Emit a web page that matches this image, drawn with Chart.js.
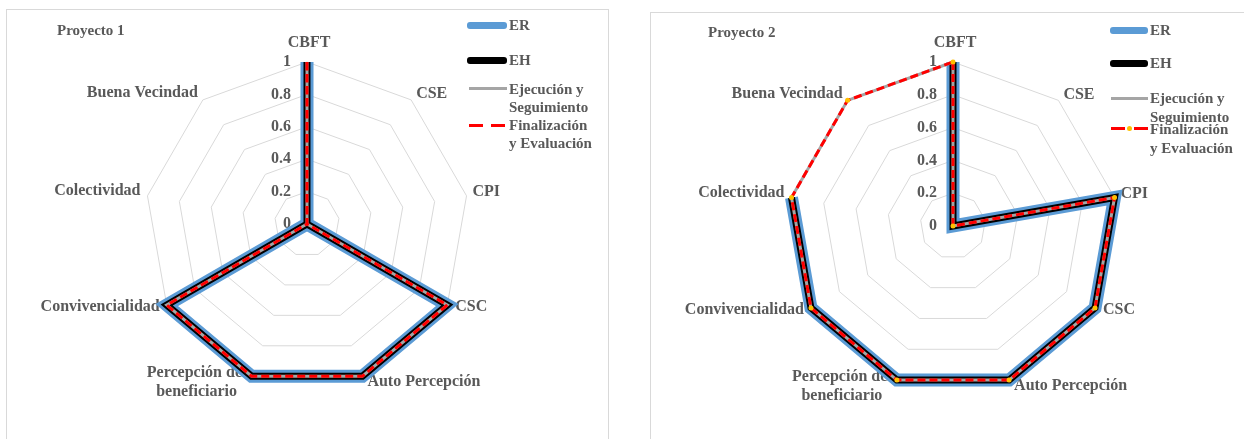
<!DOCTYPE html>
<html>
<head>
<meta charset="utf-8">
<script src="https://cdn.jsdelivr.net/npm/chart.js@4.4.1/dist/chart.umd.min.js"></script>
<style>
  body { margin: 0; background: #fff; width: 1244px; height: 439px; overflow: hidden; position: relative;
         font-family: "Liberation Serif", "Times New Roman", serif; color: #595959; }
  .panel { position: absolute; border: 1px solid #d9d9d9; box-sizing: border-box; }
  canvas { position: absolute; top: 0; }
  .txt { position: absolute; font-weight: bold; white-space: nowrap; line-height: 1; transform: translateY(-50%); }
  .title { font-size: 15px; }
  .leg { font-size: 15px; }
  .smp { position: absolute; }
</style>
</head>
<body>
<div class="panel" style="left:6px;top:9px;width:603px;height:440px;"></div>
<div class="panel" style="left:650px;top:12px;width:600px;height:440px;"></div>

<canvas id="chart1" width="614" height="439" style="left:0px;"></canvas>
<canvas id="chart2" width="604" height="439" style="left:640px;"></canvas>

<div class="txt title" style="left:57px;top:30px;">Proyecto 1</div>
<div class="txt title" style="left:708px;top:32px;">Proyecto 2</div>

<!-- legend Proyecto 1 -->
<div class="smp" style="left:467px;top:22px;width:40px;height:7px;background:#5b9bd5;border-radius:3px;"></div>
<div class="txt leg" style="left:509px;top:25px;">ER</div>
<div class="smp" style="left:467px;top:57px;width:40px;height:7px;background:#000;border-radius:3px;"></div>
<div class="txt leg" style="left:509px;top:60px;">EH</div>
<div class="smp" style="left:469px;top:87px;width:38px;height:3px;background:#a5a5a5;"></div>
<div class="txt leg" style="left:509px;top:89px;">Ejecución y</div>
<div class="txt leg" style="left:509px;top:107px;">Seguimiento</div>
<div class="smp" style="left:469px;top:124px;width:38px;height:3px;background:repeating-linear-gradient(to right,#ff0000 0 14px,transparent 14px 22px);"></div>
<div class="txt leg" style="left:509px;top:125px;">Finalización</div>
<div class="txt leg" style="left:509px;top:143px;">y Evaluación</div>

<!-- legend Proyecto 2 -->
<div class="smp" style="left:1110px;top:27px;width:38px;height:7px;background:#5b9bd5;border-radius:3px;"></div>
<div class="txt leg" style="left:1150px;top:30px;">ER</div>
<div class="smp" style="left:1110px;top:60px;width:38px;height:7px;background:#000;border-radius:3px;"></div>
<div class="txt leg" style="left:1150px;top:63px;">EH</div>
<div class="smp" style="left:1111px;top:97px;width:37px;height:3px;background:#a5a5a5;"></div>
<div class="txt leg" style="left:1150px;top:98px;">Ejecución y</div>
<div class="txt leg" style="left:1150px;top:117px;">Seguimiento</div>
<div class="smp" style="left:1111px;top:127px;width:14px;height:3px;background:#ff0000;"></div>
<div class="smp" style="left:1127px;top:126px;width:5px;height:5px;background:#ffc000;border-radius:50%;"></div>
<div class="smp" style="left:1134px;top:127px;width:14px;height:3px;background:#ff0000;"></div>
<div class="txt leg" style="left:1150px;top:129px;">Finalización</div>
<div class="txt leg" style="left:1150px;top:148px;">y Evaluación</div>

<script>
// categories, clockwise from the top
const categories = ['CBFT', 'CSE', 'CPI', 'CSC', 'Auto Percepción',
    ['Percepción del', 'beneficiario'], 'Convivencialidad', 'Colectividad', 'Buena Vecindad'];
const tickLabels = ['0', '0.2', '0.4', '0.6', '0.8', '1'];
const seriesNames = ['ER', 'EH', 'Ejecución y Seguimiento', 'Finalización y Evaluación'];

// Proyecto 1
const p1ER = [1, 0, 0, 1, 1, 1, 1, 0, 0];
const p1EH = [1, 0, 0, 1, 1, 1, 1, 0, 0];
const p1ES = [1, 0, 0, 1, 1, 1, 1, 0, 0];
const p1FE = [1, 0, 0, 1, 1, 1, 1, 0, 0];

// Proyecto 2 (ER / EH have no value for Buena Vecindad)
const p2ER = [1, 0, 1, 1, 1, 1, 1, 1, null];
const p2EH = [1, 0, 1, 1, 1, 1, 1, 1, null];
const p2ES = [1, 0, 1, 1, 1, 1, 1, 1, 1];
const p2FE = [1, 0, 1, 1, 1, 1, 1, 1, 1];

// label placement relative to the outer vertex: [dx, dy, align]
const labelPos = [
    [2, -19, 'center'], [5, -6, 'left'], [6, -4, 'left'], [8, 2, 'left'], [5, 6, 'left'],
    [-55, -3, 'center'], [-7, 2, 'right'], [-7, -5, 'right'], [-5, -7, 'right']
];

const radarText = {
    id: 'radarText',
    beforeDatasetsDraw(chart) {
        const s = chart.scales.r;
        const ctx = chart.ctx;
        ctx.save();
        ctx.fillStyle = '#595959';
        ctx.textBaseline = 'middle';
        ctx.textAlign = 'right';
        ctx.font = 'bold 16px "Liberation Serif"';
        s.ticks.forEach(function(t) {
            ctx.fillText(t.label, s.xCenter - 16, s.yCenter - s.getDistanceFromCenterForValue(t.value));
        });
        ctx.font = 'bold 16px "Liberation Serif"';
        chart.data.labels.forEach(function(lab, i) {
            const p = s.getPointPosition(i, s.drawingArea);
            const o = labelPos[i];
            ctx.textAlign = o[2];
            const lines = Array.isArray(lab) ? lab : [lab];
            lines.forEach(function(line, k) {
                ctx.fillText(line, p.x + o[0], p.y + o[1] + k * 19);
            });
        });
        ctx.restore();
    }
};

function makeDatasets(er, eh, es, fe, markers) {
    return [
        { label: seriesNames[0], data: er, borderColor: '#5b9bd5', borderWidth: 13, order: 4 },
        { label: seriesNames[1], data: eh, borderColor: '#000000', borderWidth: 7, order: 3 },
        { label: seriesNames[2], data: es, borderColor: '#a5a5a5', borderWidth: 3, order: 2 },
        { label: seriesNames[3], data: fe, borderColor: '#ff0000', borderWidth: 3, borderDash: [8, 4], order: 1,
          pointRadius: markers ? 2.5 : 0, pointBackgroundColor: '#ffc000', pointBorderWidth: 0 }
    ].map(function(d) {
        return Object.assign({ fill: false, backgroundColor: 'transparent', pointRadius: 0, clip: false }, d);
    });
}

function makeChart(id, datasets, padding) {
    new Chart(document.getElementById(id), {
        type: 'radar',
        data: { labels: categories, datasets: datasets },
        options: {
            responsive: false,
            animation: false,
            events: [],
            layout: { padding: padding },
            plugins: { legend: { display: false }, tooltip: { enabled: false } },
            scales: {
                r: {
                    min: 0,
                    max: 1,
                    ticks: {
                        stepSize: 0.2,
                        display: false,
                        callback: function(value, index) { return tickLabels[index]; }
                    },
                    grid: { color: '#d9d9d9', lineWidth: 1 },
                    angleLines: { display: false },
                    pointLabels: { display: false }
                }
            }
        },
        plugins: [radarText]
    });
}

makeChart('chart1', makeDatasets(p1ER, p1EH, p1ES, p1FE, false), { left: 0, right: 0, top: 62, bottom: 53 });
makeChart('chart2', makeDatasets(p2ER, p2EH, p2ES, p2FE, true), { left: 22, right: 0, top: 62, bottom: 49 });
</script>
</body>
</html>
